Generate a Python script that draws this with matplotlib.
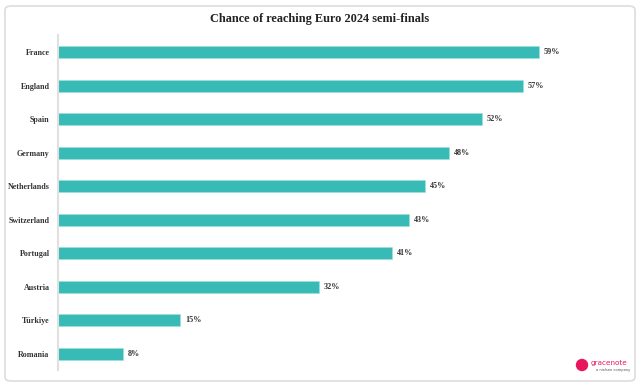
import matplotlib.pyplot as plt
from matplotlib.patches import FancyBboxPatch, Ellipse

countries = ['France', 'England', 'Spain', 'Germany', 'Netherlands',
             'Switzerland', 'Portugal', 'Austria', 'Türkiye', 'Romania']
chances = [59, 57, 52, 48, 45, 43, 41, 32, 15, 8]

teal = '#38bbb6'
serif = ['Liberation Serif', 'DejaVu Serif']

W, H = 640, 386
fig = plt.figure(figsize=(W / 100, H / 100), dpi=100)
ax = fig.add_axes([58 / W, 0.0402, 530 / W, 0.868])

ypos = list(range(len(countries)))[::-1]
ax.barh(ypos, chances, height=0.36, color=teal, edgecolor='#9fe0dc', linewidth=0.4)
for y, v in zip(ypos, chances):
    ax.text(v + 0.6, y, f'{v}%', va='center', ha='left', fontsize=5.9,
            fontweight='bold', family=serif, color='#333333')

ax.set_xlim(0, 65)
ax.set_ylim(-0.5, 9.5)
ax.set_yticks(ypos)
ax.set_yticklabels(countries, fontsize=5.8, fontweight='bold', family=serif, color='#333333')
ax.tick_params(axis='y', length=0, pad=6)
ax.set_xticks([])
for s in ['top', 'right', 'bottom']:
    ax.spines[s].set_visible(False)
ax.spines['left'].set_color('#e0e0e0')
ax.spines['left'].set_linewidth(1.5)

fig.text(0.5, 0.952, 'Chance of reaching Euro 2024 semi-finals', ha='center', va='center',
         fontsize=8.8, fontweight='bold', family=serif, color='#222222')

border = FancyBboxPatch((5 / W, 5 / H), 630 / W, 375 / H,
                        boxstyle='round,pad=0,rounding_size=0.01',
                        transform=fig.transFigure, facecolor='none',
                        edgecolor='#dddddd', linewidth=1.2)
fig.patches.append(border)

# logo
logo = Ellipse((582 / W, 1 - 365 / H), 11 / W, 11 / H, transform=fig.transFigure,
               color='#e8175d')
fig.patches.append(logo)
fig.text(591 / W, 1 - 363 / H, 'gracenote', fontsize=5.2, color='#e8175d',
         ha='left', va='center', family='DejaVu Sans')
fig.text(596 / W, 1 - 370 / H, 'a nielsen company', fontsize=2.6, color='#555555',
         ha='left', va='center', family='DejaVu Sans')

fig.savefig('out.png', dpi=100)
